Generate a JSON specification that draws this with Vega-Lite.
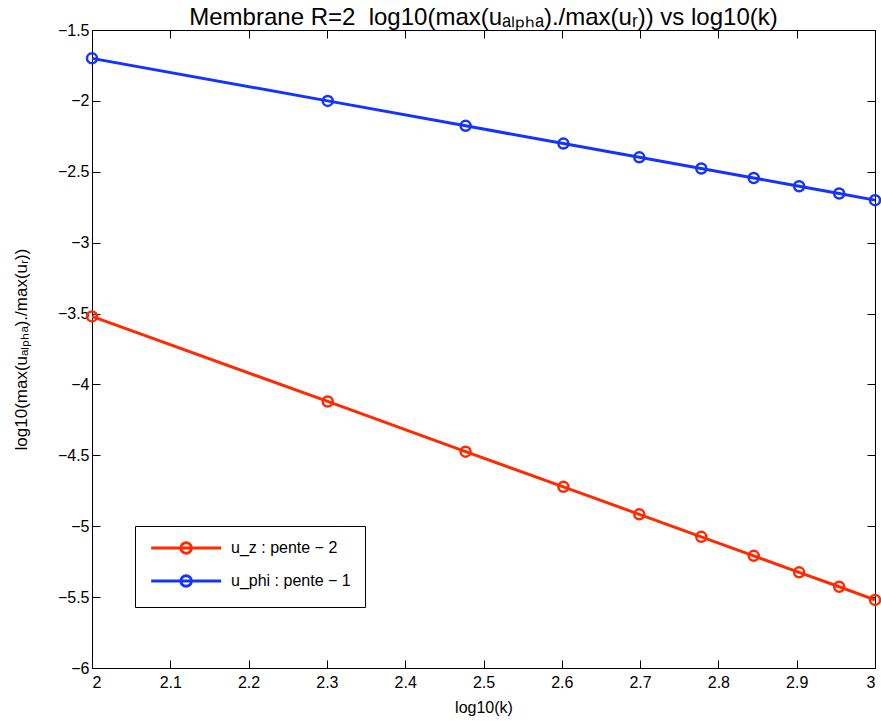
{
  "$schema": "https://vega.github.io/schema/vega-lite/v6.json",
  "autosize": {"type": "none"},
  "padding": {"left": 92, "top": 30, "right": 6, "bottom": 53},
  "width": 783,
  "height": 638,
  "background": "white",
  "config": {
    "font": "Liberation Sans",
    "view": {"stroke": "black", "strokeWidth": 1},
    "axis": {"grid": false, "domainColor": "black", "tickColor": "black", "labelColor": "black", "titleColor": "black", "labelFont": "Liberation Sans", "titleFont": "Liberation Sans", "labelFontSize": 16, "titleFontSize": 16, "titleFontWeight": "normal"}
  },
  "title": {"text": "Membrane R=2\u00a0 log10(max(uₐₗₚₕₐ)./max(uᵣ)) vs log10(k)", "fontSize": 24, "fontWeight": "normal", "font": "Liberation Sans", "color": "black", "anchor": "middle", "offset": -8},
  "data": {"values": [
    {"x": 2.0, "y": -1.7, "s": "u_phi : pente − 1"},
    {"x": 2.30103, "y": -2.0, "s": "u_phi : pente − 1"},
    {"x": 2.47712, "y": -2.176, "s": "u_phi : pente − 1"},
    {"x": 2.60206, "y": -2.301, "s": "u_phi : pente − 1"},
    {"x": 2.69897, "y": -2.398, "s": "u_phi : pente − 1"},
    {"x": 2.77815, "y": -2.477, "s": "u_phi : pente − 1"},
    {"x": 2.84510, "y": -2.544, "s": "u_phi : pente − 1"},
    {"x": 2.90309, "y": -2.602, "s": "u_phi : pente − 1"},
    {"x": 2.95424, "y": -2.653, "s": "u_phi : pente − 1"},
    {"x": 3.0, "y": -2.7, "s": "u_phi : pente − 1"},
    {"x": 2.0, "y": -3.52, "s": "u_z : pente − 2"},
    {"x": 2.30103, "y": -4.12, "s": "u_z : pente − 2"},
    {"x": 2.47712, "y": -4.474, "s": "u_z : pente − 2"},
    {"x": 2.60206, "y": -4.722, "s": "u_z : pente − 2"},
    {"x": 2.69897, "y": -4.916, "s": "u_z : pente − 2"},
    {"x": 2.77815, "y": -5.075, "s": "u_z : pente − 2"},
    {"x": 2.84510, "y": -5.209, "s": "u_z : pente − 2"},
    {"x": 2.90309, "y": -5.325, "s": "u_z : pente − 2"},
    {"x": 2.95424, "y": -5.427, "s": "u_z : pente − 2"},
    {"x": 3.0, "y": -5.52, "s": "u_z : pente − 2"}
  ]},
  "layer": [
    {
      "mark": {"type": "line", "strokeWidth": 3, "clip": false},
      "encoding": {
        "x": {"field": "x", "type": "quantitative", "scale": {"domain": [2, 3], "nice": false, "zero": false},
              "axis": {"title": "log10(k)", "values": [2, 2.1, 2.2, 2.3, 2.4, 2.5, 2.6, 2.7, 2.8, 2.9, 3], "format": "~g", "tickSize": -8, "labelPadding": 14, "titlePadding": 9, "titleFontSize": 16}},
        "y": {"field": "y", "type": "quantitative", "scale": {"domain": [-6, -1.5], "nice": false, "zero": false},
              "axis": {"title": "log10(max(uₐₗₚₕₐ)./max(uᵣ))", "values": [-6, -5.5, -5, -4.5, -4, -3.5, -3, -2.5, -2, -1.5], "format": "~g", "tickSize": -8, "labelPadding": 11, "titlePadding": 27, "titleFontSize": 17}},
        "color": {"field": "s", "type": "nominal",
                  "scale": {"domain": ["u_z : pente − 2", "u_phi : pente − 1"], "range": ["#ff2a00", "#1433ff"]},
                  "legend": {"title": null, "orient": "none", "legendX": 43, "legendY": 496, "strokeColor": "black", "fillColor": "white", "padding": 14, "labelFontSize": 16, "labelColor": "black", "labelFont": "Liberation Sans", "labelOffset": 66, "rowPadding": 9,
                             "symbolType": "M-1,0H11M4.1,0A0.9,0.9 0 1,0 5.9,0A0.9,0.9 0 1,0 4.1,0", "symbolSize": 136, "symbolStrokeWidth": 3, "symbolFillColor": "transparent", "labelLimit": 300}}
      }
    },
    {
      "mark": {"type": "point", "shape": "circle", "filled": false, "size": 100, "strokeWidth": 2.5, "opacity": 1, "clip": false},
      "encoding": {
        "x": {"field": "x", "type": "quantitative", "axis": {"orient": "top", "title": null, "labels": false, "values": [2.1, 2.2, 2.3, 2.4, 2.5, 2.6, 2.7, 2.8, 2.9], "tickSize": -8}},
        "y": {"field": "y", "type": "quantitative", "axis": {"orient": "right", "title": null, "labels": false, "values": [-5.5, -5, -4.5, -4, -3.5, -3, -2.5, -2], "tickSize": -8}},
        "color": {"field": "s", "type": "nominal", "legend": null}
      }
    }
  ],
  "resolve": {"axis": {"x": "independent", "y": "independent"}}
}
